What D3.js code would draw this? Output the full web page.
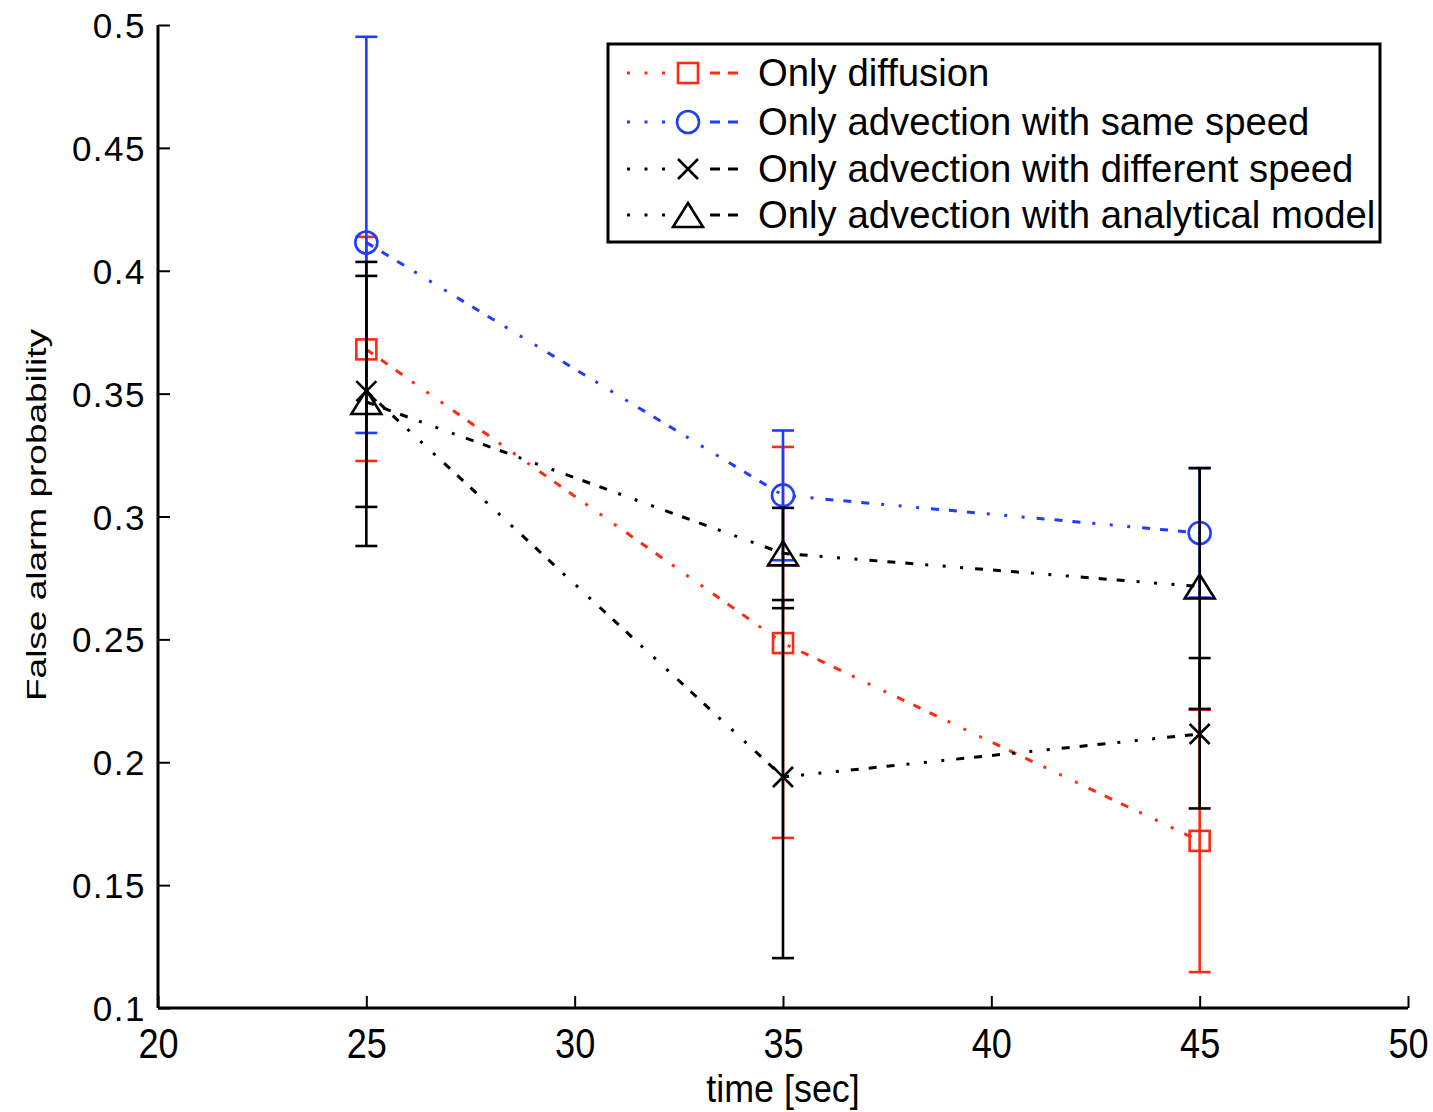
<!DOCTYPE html>
<html>
<head>
<meta charset="utf-8">
<script src="https://cdn.jsdelivr.net/npm/d3@7"></script>
<style>
  html, body { margin: 0; padding: 0; background: #fff; }
  text { font-family: "Liberation Sans", Arial, sans-serif; fill: #000; }
</style>
</head>
<body>
<svg id="chart" width="1433" height="1112"></svg>
<script>
// ---------------- data ----------------
const times = [25, 35, 45];
const seriesNames = [
  "Only diffusion",
  "Only advection with same speed",
  "Only advection with different speed",
  "Only advection with analytical model"
];
const diffusion      = [0.368, 0.2485, 0.168];
const diffusionLow   = [0.3226, 0.1692, 0.1146];
const diffusionHigh  = [0.4138, 0.3283, 0.2214];
const sameSpeed      = [0.4115, 0.3086, 0.2933];
const sameSpeedLow   = [0.334, 0.2822, 0.267];
const sameSpeedHigh  = [0.4952, 0.335, 0.3197];
const diffSpeed      = [0.351, 0.194, 0.2115];
const diffSpeedLow   = [0.3039, 0.1203, 0.1812];
const diffSpeedHigh  = [0.3979, 0.266, 0.2424];
const analytical     = [0.3466, 0.285, 0.2715];
const analyticalLow  = [0.288, 0.2627, 0.2217];
const analyticalHigh = [0.4036, 0.3035, 0.3197];
const xTicks = [20, 25, 30, 35, 40, 45, 50];
const yTicks = [0.1, 0.15, 0.2, 0.25, 0.3, 0.35, 0.4, 0.45, 0.5];
const xLabel = "time [sec]";
const yLabel = "False alarm probability";

// ---------------- setup ----------------
const RED = "#ff2a10", BLUE = "#1f3cff", BLACK = "#000";
const series = [
  {name: seriesNames[0], v: diffusion,  lo: diffusionLow,  hi: diffusionHigh,  color: RED,   marker: "square"},
  {name: seriesNames[1], v: sameSpeed,  lo: sameSpeedLow,  hi: sameSpeedHigh,  color: BLUE,  marker: "circle"},
  {name: seriesNames[2], v: diffSpeed,  lo: diffSpeedLow,  hi: diffSpeedHigh,  color: BLACK, marker: "x"},
  {name: seriesNames[3], v: analytical, lo: analyticalLow, hi: analyticalHigh, color: BLACK, marker: "triangle"}
];

const svg = d3.select("#chart");
const L = 158, R = 1408, T = 25, B = 1008;
const x = d3.scaleLinear().domain([20, 50]).range([L, R]);
const y = d3.scaleLinear().domain([0.1, 0.5]).range([B, T]);

// ---------------- axes ----------------
const xAxis = d3.axisBottom(x).tickValues(xTicks).tickSize(-12).tickFormat(d3.format("d")).tickPadding(20);
const gx = svg.append("g").attr("transform", `translate(0,${B})`).call(xAxis);
gx.select(".domain").attr("stroke", "#000").attr("stroke-width", 3.2).attr("d", `M${L},0H${R}`);
gx.selectAll(".tick line").attr("stroke", "#000").attr("stroke-width", 2);
gx.selectAll(".tick text")
  .attr("font-size", 42).attr("font-family", "Liberation Sans, Arial, sans-serif")
  .attr("dy", "0.71em")
  .attr("transform", "scale(0.86,1)");

const yAxis = d3.axisLeft(y).tickValues(yTicks).tickSize(-12).tickFormat(d => String(+d.toFixed(2))).tickPadding(12);
const gy = svg.append("g").attr("transform", `translate(${L},0)`).call(yAxis);
gy.select(".domain").attr("stroke", "#000").attr("stroke-width", 3).attr("d", `M0,${B}V${T}`);
gy.selectAll(".tick line").attr("stroke", "#000").attr("stroke-width", 2);
gy.selectAll(".tick text")
  .attr("font-size", 35).attr("font-family", "Liberation Sans, Arial, sans-serif")
  .attr("letter-spacing", 1.5).attr("dy", "0.36em");

// axis titles
svg.append("text").attr("text-anchor", "middle")
  .attr("font-size", 39)
  .attr("transform", `translate(${x(35)},1102) scale(0.92,1)`)
  .text(xLabel);
svg.append("text").attr("text-anchor", "middle")
  .attr("font-size", 27)
  .attr("transform", `translate(46,515) rotate(-90) scale(1.37,1)`)
  .text(yLabel);

// ---------------- marks ----------------
const dashPattern = "8,10,8,10,8,12,3,14.5,3,14.5,3,12";
const line = d3.line().x((d, i) => x(times[i])).y(d => y(d));
const cap = 11;

function drawMarker(g, type, cx, cy, color) {
  const sw = 2.6;
  if (type === "square") {
    g.append("rect").attr("x", cx - 10).attr("y", cy - 10).attr("width", 20).attr("height", 20)
      .attr("fill", "none").attr("stroke", color).attr("stroke-width", sw);
  } else if (type === "circle") {
    g.append("circle").attr("cx", cx).attr("cy", cy).attr("r", 11)
      .attr("fill", "none").attr("stroke", color).attr("stroke-width", sw);
  } else if (type === "x") {
    const s = 10;
    g.append("path").attr("d", `M${cx - s},${cy - s}L${cx + s},${cy + s}M${cx - s},${cy + s}L${cx + s},${cy - s}`)
      .attr("stroke", color).attr("stroke-width", sw).attr("fill", "none");
  } else if (type === "triangle") {
    const w = 15, h = 12;
    g.append("path").attr("d", `M${cx},${cy - h}L${cx + w},${cy + h}L${cx - w},${cy + h}Z`)
      .attr("fill", "none").attr("stroke", color).attr("stroke-width", sw).attr("stroke-linejoin", "miter");
  }
}

const plot = svg.append("g");
series.forEach(s => {
  const g = plot.append("g");
  // error bars
  times.forEach((t, i) => {
    const cx = x(t);
    g.append("line").attr("x1", cx).attr("x2", cx).attr("y1", y(s.lo[i])).attr("y2", y(s.hi[i]))
      .attr("stroke", s.color).attr("stroke-width", 2.6);
    [s.lo[i], s.hi[i]].forEach(v => {
      g.append("line").attr("x1", cx - cap).attr("x2", cx + cap).attr("y1", y(v)).attr("y2", y(v))
        .attr("stroke", s.color).attr("stroke-width", 2.6);
    });
  });
  // connecting line
  g.append("path").datum(s.v).attr("d", line).attr("fill", "none")
    .attr("stroke", s.color).attr("stroke-width", 3).attr("stroke-dasharray", dashPattern);
  // markers
  times.forEach((t, i) => drawMarker(g, s.marker, x(t), y(s.v[i]), s.color));
});

// ---------------- legend ----------------
const lg = svg.append("g");
lg.append("rect").attr("x", 608).attr("y", 44).attr("width", 772).attr("height", 198)
  .attr("fill", "#fff").attr("stroke", "#000").attr("stroke-width", 3);
const rowY = [73, 122, 169, 215];
series.forEach((s, i) => {
  const yy = rowY[i];
  lg.append("line").attr("x1", 627).attr("x2", 672).attr("y1", yy).attr("y2", yy)
    .attr("stroke", s.color).attr("stroke-width", 3).attr("stroke-dasharray", "3,14.5");
  lg.append("line").attr("x1", 710).attr("x2", 742).attr("y1", yy).attr("y2", yy)
    .attr("stroke", s.color).attr("stroke-width", 3).attr("stroke-dasharray", "10,8");
  drawMarker(lg, s.marker, 688, yy, s.color);
  lg.append("text").attr("x", 758).attr("y", yy + 13).attr("font-size", 38.3).text(s.name);
});
</script>
</body>
</html>
